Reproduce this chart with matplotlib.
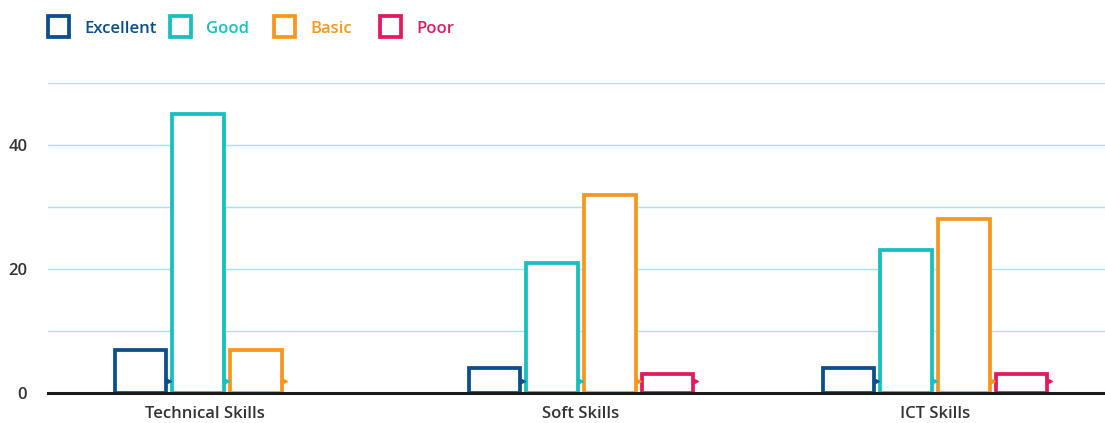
import numpy as np
import matplotlib.pyplot as plt
from matplotlib.patches import Rectangle
from matplotlib.transforms import offset_copy, ScaledTranslation

plt.rcParams['font.family'] = ['Open Sans', 'DejaVu Sans']

categories = ["Technical Skills", "Soft Skills", "ICT Skills"]
levels = ["Excellent", "Good", "Basic", "Poor"]
excellent = [7, 4, 4]
good = [45, 21, 23]
basic = [7, 32, 28]
poor = [0, 3, 3]
colors = ["#0a4f8c", "#17bfbf", "#f7971e", "#e2195f"]

series = [excellent, good, basic, poor]

W, H = 1105, 423
fig = plt.figure(figsize=(W / 100, H / 100), dpi=100)
ax = fig.add_axes([48 / W, 30 / H, 1 - 48 / W, 310 / H])

x = np.arange(len(categories))
width = 0.146
step = 0.163

for i, (vals, col) in enumerate(zip(series, colors)):
    pos = x + (i - 1.5) * step
    for p, v in zip(pos, vals):
        if v <= 0:
            continue
        ax.bar(p, v, width=width, facecolor="white", edgecolor=col,
               linewidth=2.7, zorder=3)
        # small notch at the bottom right corner
        tr = offset_copy(ax.transData, fig=fig, x=2, y=12, units="dots")
        ax.plot(p + width / 2, 0, marker=">", markersize=4.5, color=col,
                transform=tr, zorder=4, clip_on=False)

ax.set_xlim(-0.506, 2.48)
ax.set_ylim(0, 50)
ax.set_yticks([0, 20, 40])
ax.set_yticks([10, 30, 50], minor=True)
ax.grid(axis="y", which="both", color="#a3e5e5", linewidth=1, zorder=0)
ax.set_xticks(x)
ax.set_xticklabels(categories)
for s in ["top", "right", "left"]:
    ax.spines[s].set_visible(False)
ax.spines["bottom"].set_color("#1a1a1a")
ax.spines["bottom"].set_linewidth(2.2)
ax.spines["bottom"].set_zorder(5)
ax.tick_params(axis="both", which="both", length=0, labelsize=12,
               labelcolor="#333333")
ax.tick_params(axis="y", pad=15)
ax.tick_params(axis="x", pad=9)
for lab in ax.get_xticklabels() + ax.get_yticklabels():
    lab.set_fontweight("semibold")

# first group label sits a bit left in the original (no Poor bar there)
first = ax.get_xticklabels()[0]
first.set_transform(first.get_transform() +
                    ScaledTranslation(-0.22, 0, fig.dpi_scale_trans))

# legend drawn by hand so the item spacing matches
legend_x = [48, 170, 274, 380]
box = 21
for lx, name, col in zip(legend_x, levels, colors):
    fig.add_artist(Rectangle((lx / W, (H - 27 - box / 2) / H), box / W, box / H,
                             transform=fig.transFigure, facecolor="white",
                             edgecolor=col, linewidth=2.7))
    fig.text((lx + 36) / W, (H - 27) / H, name, color=col, fontsize=12,
             fontweight="semibold", va="center_baseline", ha="left")

fig.savefig("out.png", dpi=100)
